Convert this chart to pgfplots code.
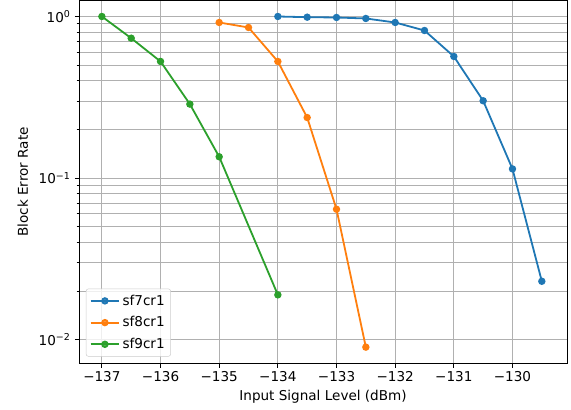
\documentclass[border=0pt]{standalone}
\usepackage{pgfplots}
\pgfplotsset{compat=1.18}
\usepackage{fontspec}
\setmainfont{DejaVu Sans}

\definecolor{c0}{HTML}{1F77B4}
\definecolor{c1}{HTML}{FF7F0E}
\definecolor{c2}{HTML}{2CA02C}
\definecolor{gridgray}{HTML}{B0B0B0}

\begin{document}
\begin{tikzpicture}
\begin{axis}[
    at = {(0,0)}, anchor = south west,
    scale only axis,
    width = 406.7pt, height = 302.5pt,
    ymode = log,
    xmin = -137.39, xmax = -129.07,
    ymin = 0.00713, ymax = 1.256,
    xtick = {-137,-136,-135,-134,-133,-132,-131,-130},
    xticklabels = {−137,−136,−135,−134,−133,−132,−131,−130},
    ytick = {0.01,0.1,1},
    yticklabels = {10\textsuperscript{−2},10\textsuperscript{−1},10\textsuperscript{0}},
    grid = both,
    major grid style = {gridgray, line width = 0.8pt},
    minor grid style = {gridgray, line width = 0.8pt},
    axis line style = {black, line width = 0.8pt},
    tick align = outside,
    tick pos = left,
    major tick length = 3.5pt,
    minor tick length = 2pt,
    tick style = {black, line width = 0.8pt},
    every tick label/.append style = {font = \fontsize{11.3}{13.5}\selectfont},
    xlabel = {Input Signal Level (dBm)},
    ylabel = {Block Error Rate},
    ylabel style = {xshift = 0pt, yshift = 2pt},
    label style = {font = \fontsize{11.3}{13.5}\selectfont},
    legend cell align = {left},
    legend style = {
        at = {(0.014,0.019)}, anchor = south west,
        draw = gray!40, rounded corners = 2pt, fill = white, fill opacity = 0.8,
        text opacity = 1, font = \fontsize{11.3}{13.5}\selectfont,
        row sep = 4pt, inner ysep = 3pt
    },
    legend image code/.code = {
        \draw[mark repeat = 2, mark phase = 2, #1]
            plot coordinates {(0cm,0cm) (0.42cm,0cm) (0.84cm,0cm)};
    },
    every axis plot/.append style = {line width = 1.5pt, mark = *, mark size = 2.3pt}
]

\addplot[c0, mark options = {fill = c0}] coordinates {
    (-134.0, 1.000) (-133.5, 0.990) (-133.0, 0.986) (-132.5, 0.972)
    (-132.0, 0.918) (-131.5, 0.819) (-131.0, 0.566) (-130.5, 0.301)
    (-130.0, 0.114) (-129.5, 0.0230)
};

\addplot[c1, mark options = {fill = c1}] coordinates {
    (-135.0, 0.918) (-134.5, 0.855) (-134.0, 0.527) (-133.5, 0.237)
    (-133.0, 0.0642) (-132.5, 0.0090)
};

\addplot[c2, mark options = {fill = c2}] coordinates {
    (-137.0, 1.000) (-136.5, 0.734) (-136.0, 0.527) (-135.5, 0.287)
    (-135.0, 0.1355) (-134.0, 0.01896)
};

\legend{sf7cr1, sf8cr1, sf9cr1}

\end{axis}
\path (-65.83pt,-38.33pt) rectangle (410pt,302.9pt);
\end{tikzpicture}
\end{document}
